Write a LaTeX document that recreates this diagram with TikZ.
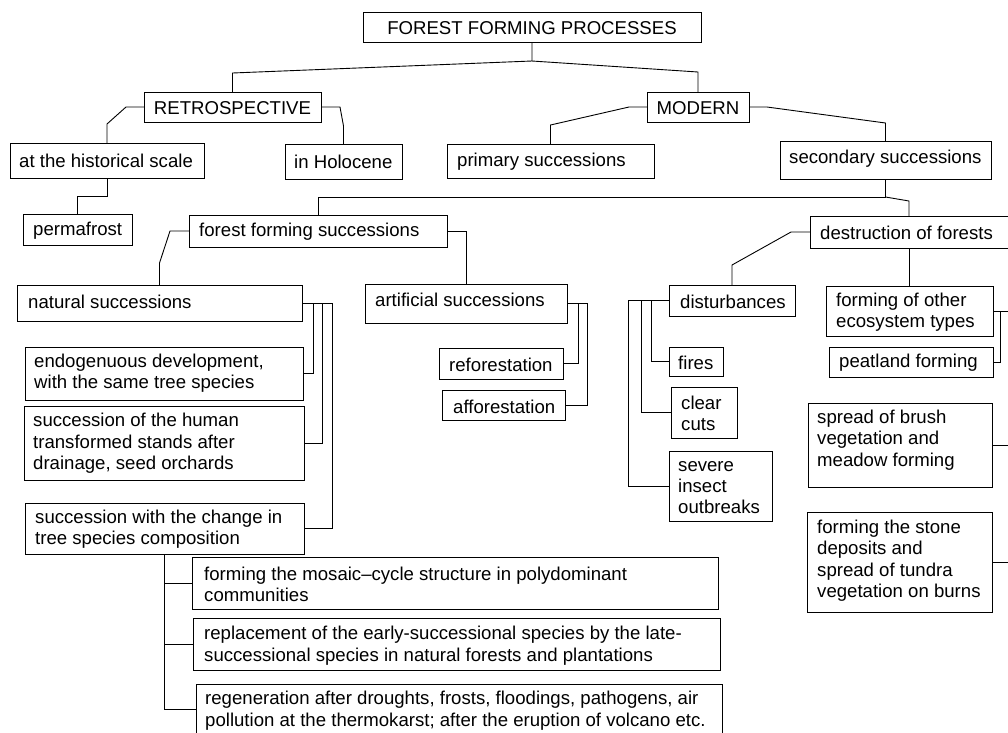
\documentclass[tikz,border=0pt]{standalone}
\usepackage{fontspec}
\setmainfont{Liberation Sans}
\tikzset{
  box/.style={draw, line width=0.9pt, inner sep=0pt, outer sep=0pt},
  txt/.style={anchor=west, align=left, inner sep=0pt, yshift=-1.5pt, font=\fontsize{18.6}{21.4}\selectfont},
  ctxt/.style={anchor=center, align=center, inner sep=0pt, yshift=-1pt, font=\fontsize{18.6}{21.4}\selectfont},
  conn/.style={line width=0.9pt},
}
% box with left-aligned text: name, x1, y1, x2, y2, text x, text y, text
\newcommand\bx[8]{%
  \node[box, minimum width={(#4-#2)*1pt}, minimum height={(#5-#3)*1pt}] (#1) at ({(#2+#4)/2},{(#3+#5)/2}) {};
  \node[txt] (#1t) at (#6,#7) {#8};}
% box with centred text
\newcommand\cbx[6]{%
  \node[box, minimum width={(#4-#2)*1pt}, minimum height={(#5-#3)*1pt}] (#1) at ({(#2+#4)/2},{(#3+#5)/2}) {};
  \node[ctxt] (#1t) at (#1.center) {#6};}
\begin{document}
\begin{tikzpicture}[x=1pt,y=-1pt]
\useasboundingbox (0,0) rectangle (1008,732);
\fill[white] (0,0) rectangle (1008,732);
\begin{scope}
\clip (0,0) rectangle (1008,732);
\cbx{title}{363}{12}{701}{42}{FOREST FORMING PROCESSES}
\cbx{retro}{144}{92}{321}{122}{RETROSPECTIVE}
\cbx{modern}{647}{92}{749}{122}{MODERN}
\bx{hist}{10}{143}{204}{178}{19}{159}{at the historical scale}
\bx{holo}{285}{144}{402}{179}{294}{160}{in Holocene}
\bx{prim}{447}{144}{654}{178}{457}{160}{primary successions}
\bx{sec}{780}{141}{991}{179}{789}{157}{secondary successions}
\bx{perm}{23}{214}{132}{245}{33}{229}{permafrost}
\bx{ffs}{189}{215}{447}{247}{199}{230}{forest forming successions}
\bx{destr}{810}{216}{1015}{248}{820}{231}{destruction of forests}
\bx{nat}{17}{285}{302}{321}{28}{300}{natural successions}
\bx{art}{365}{284}{567}{323}{375}{298}{artificial successions}
\bx{endo}{25}{347}{303}{400}{34}{371.5}{endogenuous development,\\with the same tree species}
\bx{human}{24}{406}{304}{480}{33}{442}{succession of the human\\transformed stands after\\drainage, seed orchards}
\bx{change}{25}{503}{304}{554}{35}{527.5}{succession with the change in\\tree species composition}
\bx{refo}{439}{348}{563}{379}{449}{363}{reforestation}
\bx{affo}{442}{390}{565}{420}{453}{405}{afforestation}
\bx{dist}{669}{285}{795}{316}{680}{300}{disturbances}
\bx{fires}{669}{347}{723}{376}{678}{361}{fires}
\bx{clear}{671}{387}{737}{438}{681}{412}{clear\\cuts}
\bx{severe}{669}{451}{772}{521}{678}{486}{severe\\insect\\outbreaks}
\bx{other}{826}{286}{993}{336}{836}{310.5}{forming of other\\ecosystem types}
\bx{peat}{829}{347}{993}{377}{839}{361}{peatland forming}
\bx{brush}{808}{403}{992}{487}{817}{438.5}{spread of brush\\vegetation and\\meadow forming}
\bx{stone}{807}{512}{992}{612}{817}{559}{forming the stone\\deposits and\\spread of tundra\\vegetation on burns}
\bx{mosaic}{192}{557}{718}{609}{204}{583}{forming the mosaic–cycle structure in polydominant\\communities}
\bx{repl}{193}{618}{720}{670}{204}{644}{replacement of the early-successional species by the late-\\successional species in natural forests and plantations}
\bx{regen}{196}{684}{722}{734}{205}{709}{regeneration after droughts, frosts, floodings, pathogens, air\\pollution at the thermokarst; after the eruption of volcano etc.}
% connectors
\draw[conn] (title.south) -- (532,61) coordinate (jt) -- (232.5,73) -- (retro.north);
\draw[conn] (jt) -- (698,72) -- (modern.north);
\draw[conn] (retro.west) -- (126,107) -- (107,124) -- (hist.north);
\draw[conn] (retro.east) -- (340,107) -- (343.5,126) -- (holo.north);
\draw[conn] (modern.west) -- (629,107) -- (550.5,125) -- (prim.north);
\draw[conn] (modern.east) -- (767,107) -- (885.5,123) -- (sec.north);
\draw[conn] (hist.south) -- ++(0,18) -| (perm.north);
\draw[conn] (sec.south) -- ++(0,18) coordinate (js) -| (ffs.north);
\draw[conn] (js) -- (909,201) coordinate (jd) -- (jd |- destr.north);
\draw[conn] (ffs.west) -- (170,231) -- (159.5,263) -- (nat.north);
\draw[conn] (ffs.east) -| (art.north);
\draw[conn] (nat.east) -- ++(11,0) |- (endo.east);
\draw[conn] (nat.east) -- ++(20,0) |- (human.east);
\draw[conn] (nat.east) -- ++(30,0) |- (change.east);
\draw[conn] (art.east) -- ++(11,0) |- (refo.east);
\draw[conn] (art.east) -- ++(20,0) |- (affo.east);
\draw[conn] (change.south) |- (mosaic.west);
\draw[conn] (change.south) |- (repl.west);
\draw[conn] (change.south) |- (regen.west);
\draw[conn] (destr.west) -- (791,232) -- (732,265) -- (dist.north);
\draw[conn] (jd |- destr.south) -- (jd |- other.north);
\draw[conn] (dist.west) -- ++(-18,0) |- (fires.west);
\draw[conn] (dist.west) -- ++(-28,0) |- (clear.west);
\draw[conn] (dist.west) -- ++(-41,0) |- (severe.west);
\draw[conn] (other.east) -- ++(20,0);
\draw[conn] (other.east) -- ++(7,0) |- (peat.east);
\draw[conn] (brush.east) -- ++(20,0);
\draw[conn] (stone.east) -- ++(20,0);
\end{scope}
\end{tikzpicture}
\end{document}
